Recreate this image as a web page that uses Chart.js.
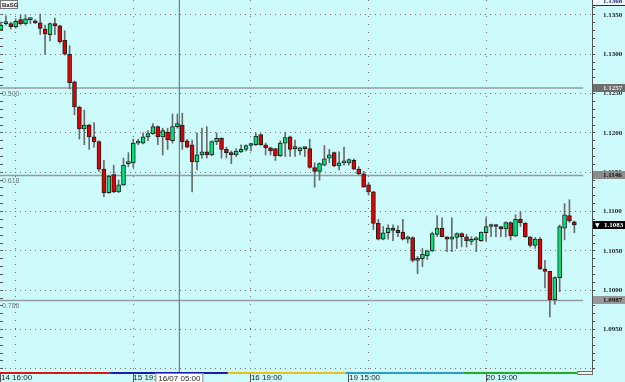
<!DOCTYPE html>
<html>
<head>
<meta charset="utf-8">
<script src="https://cdn.jsdelivr.net/npm/chart.js@4"></script>
<style>
html, body { margin: 0; padding: 0; background: #cdfbfb; }
canvas { display: block; }
</style>
</head>
<body>
<canvas id="chart" width="625" height="382"></canvas>
<script>
var opens = [1.1331, 1.1339, 1.1339, 1.1335, 1.1344, 1.1339, 1.1344, 1.1342, 1.1340, 1.1332,
    1.1325, 1.1339, 1.1336, 1.1318, 1.1300, 1.1265, 1.1233, 1.1205, 1.1210, 1.1195,
    1.1189, 1.1154, 1.1124, 1.1147, 1.1125, 1.1134, 1.1161, 1.1162, 1.1187, 1.1187,
    1.1195, 1.1199, 1.1208, 1.1195, 1.1201, 1.1190, 1.1208, 1.1210, 1.1190, 1.1185,
    1.1163, 1.1172, 1.1176, 1.1172, 1.1189, 1.1193, 1.1179, 1.1175, 1.1172, 1.1176,
    1.1179, 1.1184, 1.1185, 1.1198, 1.1185, 1.1181, 1.1180, 1.1171, 1.1187, 1.1195,
    1.1180, 1.1177, 1.1181, 1.1180, 1.1156, 1.1151, 1.1159, 1.1168, 1.1175, 1.1158,
    1.1162, 1.1162, 1.1165, 1.1154, 1.1148, 1.1134, 1.1125, 1.1085, 1.1065, 1.1073,
    1.1079, 1.1076, 1.1074, 1.1065, 1.1067, 1.1038, 1.1040, 1.1044, 1.1050, 1.1071,
    1.1079, 1.1068, 1.1065, 1.1067, 1.1072, 1.1068, 1.1062, 1.1064, 1.1063, 1.1073,
    1.1081, 1.1083, 1.1081, 1.1078, 1.1086, 1.1069, 1.1090, 1.1085, 1.1068, 1.1057,
    1.1065, 1.1027, 1.1024, 1.0988, 1.1016, 1.1079, 1.1095, 1.1087];

var highs = [1.1341, 1.1349, 1.1341, 1.1345, 1.1350, 1.1350, 1.1346, 1.1344, 1.1351, 1.1337,
    1.1340, 1.1346, 1.1337, 1.1330, 1.1311, 1.1266, 1.1234, 1.1229, 1.1211, 1.1213,
    1.1190, 1.1165, 1.1146, 1.1159, 1.1140, 1.1168, 1.1175, 1.1192, 1.1192, 1.1200,
    1.1203, 1.1212, 1.1209, 1.1206, 1.1206, 1.1224, 1.1224, 1.1225, 1.1192, 1.1191,
    1.1200, 1.1206, 1.1208, 1.1190, 1.1200, 1.1194, 1.1182, 1.1177, 1.1180, 1.1185,
    1.1185, 1.1187, 1.1200, 1.1199, 1.1187, 1.1182, 1.1180, 1.1190, 1.1201, 1.1196,
    1.1191, 1.1182, 1.1181, 1.1192, 1.1162, 1.1162, 1.1184, 1.1179, 1.1176, 1.1176,
    1.1182, 1.1167, 1.1167, 1.1157, 1.1151, 1.1137, 1.1126, 1.1090, 1.1081, 1.1083,
    1.1083, 1.1082, 1.1090, 1.1069, 1.1068, 1.1043, 1.1053, 1.1051, 1.1074, 1.1095,
    1.1092, 1.1068, 1.1092, 1.1073, 1.1073, 1.1071, 1.1068, 1.1068, 1.1074, 1.1092,
    1.1084, 1.1083, 1.1081, 1.1087, 1.1087, 1.1096, 1.1100, 1.1086, 1.1068, 1.1067,
    1.1067, 1.1038, 1.1024, 1.1017, 1.1083, 1.1110, 1.1115, 1.1088];

var lows = [1.1330, 1.1337, 1.1332, 1.1333, 1.1337, 1.1337, 1.1339, 1.1339, 1.1325, 1.1300,
    1.1317, 1.1325, 1.1314, 1.1299, 1.1256, 1.1223, 1.1192, 1.1185, 1.1179, 1.1182,
    1.1151, 1.1119, 1.1123, 1.1124, 1.1124, 1.1133, 1.1157, 1.1156, 1.1185, 1.1186,
    1.1190, 1.1198, 1.1185, 1.1172, 1.1179, 1.1187, 1.1206, 1.1179, 1.1181, 1.1125,
    1.1153, 1.1168, 1.1168, 1.1171, 1.1185, 1.1168, 1.1168, 1.1161, 1.1170, 1.1175,
    1.1177, 1.1177, 1.1184, 1.1184, 1.1172, 1.1172, 1.1165, 1.1170, 1.1170, 1.1170,
    1.1170, 1.1172, 1.1170, 1.1155, 1.1131, 1.1140, 1.1158, 1.1162, 1.1157, 1.1153,
    1.1159, 1.1159, 1.1153, 1.1147, 1.1131, 1.1121, 1.1077, 1.1064, 1.1064, 1.1065,
    1.1063, 1.1068, 1.1064, 1.1060, 1.1036, 1.1021, 1.1030, 1.1039, 1.1049, 1.1068,
    1.1068, 1.1049, 1.1049, 1.1053, 1.1055, 1.1055, 1.1058, 1.1049, 1.1062, 1.1062,
    1.1068, 1.1068, 1.1068, 1.1068, 1.1064, 1.1068, 1.1081, 1.1067, 1.1055, 1.1053,
    1.1026, 1.1003, 1.0966, 1.0982, 1.0998, 1.1064, 1.1086, 1.1073];

var closes = [1.1337, 1.1340, 1.1335, 1.1342, 1.1339, 1.1345, 1.1344, 1.1340, 1.1333, 1.1326,
    1.1339, 1.1336, 1.1316, 1.1300, 1.1264, 1.1233, 1.1205, 1.1210, 1.1195, 1.1189,
    1.1154, 1.1124, 1.1145, 1.1125, 1.1134, 1.1159, 1.1163, 1.1187, 1.1189, 1.1195,
    1.1199, 1.1208, 1.1195, 1.1203, 1.1191, 1.1208, 1.1212, 1.1189, 1.1182, 1.1163,
    1.1172, 1.1176, 1.1172, 1.1189, 1.1193, 1.1179, 1.1175, 1.1172, 1.1177, 1.1179,
    1.1184, 1.1185, 1.1196, 1.1185, 1.1181, 1.1177, 1.1171, 1.1187, 1.1194, 1.1179,
    1.1180, 1.1181, 1.1180, 1.1156, 1.1151, 1.1161, 1.1167, 1.1172, 1.1158, 1.1162,
    1.1162, 1.1166, 1.1154, 1.1148, 1.1131, 1.1125, 1.1085, 1.1065, 1.1073, 1.1079,
    1.1076, 1.1073, 1.1065, 1.1068, 1.1038, 1.1040, 1.1046, 1.1050, 1.1072, 1.1079,
    1.1068, 1.1065, 1.1068, 1.1072, 1.1068, 1.1063, 1.1064, 1.1064, 1.1074, 1.1081,
    1.1083, 1.1081, 1.1078, 1.1086, 1.1069, 1.1090, 1.1086, 1.1068, 1.1057, 1.1065,
    1.1027, 1.1024, 1.0988, 1.1016, 1.1081, 1.1096, 1.1088, 1.1083];

// time axis labels (candle index -> text)
var labelIdx = [0, 27, 51, 71, 99];
var labelText = ['14 16:00', '15 19:00', '16 19:00', '19 15:00', '20 19:00'];
var gridIdx = [3, 27, 51, 75, 99];

// price axis: minor tick every 0.001, label every 0.005 (bottom one hidden)
var priceTicks = [];
for (var t = 1090; t <= 1136; t++) priceTicks.push(t / 1000);
var lowestLabel = 1.0950;

// fibonacci retracement levels
var fibLevels = [1.1257, 1.1146, 1.0987];
var fibNames = ['0.500', '0.618', '0.786'];
var lastPrice = 1.1083;
var topPrice = 1.1368;

// cursor
var crossX = 36.4;
var crossText = '16/07 05:00';

// trading sessions along the time axis
var sessionBounds = [-0.2, 22.3, 46.3, 70.3, 94.3, 117.6];
var sessionColors = ['#d01818', '#1c1ca8', '#e2c21e', '#2a9ccf', '#1fae2a'];

var xMin = -0.2, xMax = 120.6, fibEnd = 118.8;
var yMin = 1.0896, yMax = 1.1369;

var UP = '#00e27a', DOWN = '#e00000';

function isMajor(v) {
    return Math.abs(v * 200 - Math.round(v * 200)) < 1e-6;
}

function noPad(s) {
    s.paddingTop = 0;
    s.paddingBottom = 0;
    s.paddingLeft = 0;
    s.paddingRight = 0;
}

var decor = {
    id: 'decor',
    afterDraw: function (chart) {
        var ctx = chart.ctx, xs = chart.scales.x, ys = chart.scales.y, area = chart.chartArea;
        ctx.save();

        // session strip
        for (var i = 0; i < sessionColors.length; i++) {
            var a = xs.getPixelForValue(sessionBounds[i]);
            var b = xs.getPixelForValue(sessionBounds[i + 1]);
            ctx.fillStyle = sessionColors[i];
            ctx.fillRect(a, area.bottom, b - a, 2);
        }
        var e = xs.getPixelForValue(sessionBounds[sessionBounds.length - 1]);
        ctx.fillStyle = '#f2f2f2';
        ctx.fillRect(e, area.bottom, area.right - e, 2);
        ctx.strokeStyle = '#707070';
        ctx.lineWidth = 1;
        ctx.strokeRect(e + 0.5, area.bottom - 0.5, area.right - e, 3);

        // fib names
        ctx.font = '7px "Liberation Sans"';
        ctx.fillStyle = '#6a7a7a';
        ctx.textAlign = 'left';
        ctx.textBaseline = 'top';
        fibLevels.forEach(function (v, k) {
            ctx.fillText(fibNames[k], 2, ys.getPixelForValue(v) + 2);
        });

        // price tags on the right axis
        function tag(v, bg, fg, text, tx) {
            var y = Math.round(ys.getPixelForValue(v));
            ctx.fillStyle = bg;
            ctx.fillRect(area.right + 1, y - 4, chart.width - area.right, 8);
            ctx.fillStyle = fg;
            ctx.font = 'bold 7px "Liberation Serif"';
            ctx.textBaseline = 'middle';
            ctx.textAlign = 'left';
            ctx.fillText(text, tx, y + 0.5);
        }
        tag(fibLevels[0], '#6e6e6e', '#e8e8e8', fibLevels[0].toFixed(4), 603);
        tag(fibLevels[1], '#8c8c8c', '#111111', fibLevels[1].toFixed(4), 603);
        tag(fibLevels[2], '#999999', '#111111', fibLevels[2].toFixed(4), 603);
        tag(lastPrice, '#000000', '#ffffff', lastPrice.toFixed(4), 604);
        var ly = Math.round(ys.getPixelForValue(lastPrice));
        ctx.font = '6px "DejaVu Sans"';
        ctx.fillText('\u25BC', 595, ly + 0.5);

        var ty = Math.round(ys.getPixelForValue(topPrice));
        ctx.fillStyle = '#f4f8ff';
        ctx.fillRect(area.right + 1, ty - 5, chart.width - area.right, 9);
        ctx.fillStyle = '#1a2a7a';
        ctx.fillRect(area.right + 1, ty + 4, chart.width - area.right, 1);
        ctx.font = 'bold 7px "Liberation Serif"';
        ctx.textBaseline = 'middle';
        ctx.fillText(topPrice.toFixed(4), 603, ty);

        // cursor time label
        var cx = xs.getPixelForValue(crossX);
        ctx.fillStyle = '#ffffff';
        ctx.fillRect(cx - 24, area.bottom + 1, 48, 10);
        ctx.strokeStyle = '#808080';
        ctx.strokeRect(cx - 23.5, area.bottom + 1.5, 47, 10);
        ctx.fillStyle = '#222222';
        ctx.font = '8px "Liberation Sans"';
        ctx.textAlign = 'center';
        ctx.textBaseline = 'middle';
        ctx.fillText(crossText, cx, area.bottom + 7);

        // symbol box top-left
        ctx.fillStyle = '#f4f4f4';
        ctx.fillRect(0, 0, 18, 9);
        ctx.strokeStyle = '#777777';
        ctx.strokeRect(0.5, 0.5, 17, 8);
        ctx.fillStyle = '#222222';
        ctx.font = 'bold 6px "Liberation Sans"';
        ctx.textAlign = 'left';
        ctx.fillText('BaSG', 2, 5);

        ctx.restore();
    }
};

var wickData = highs.map(function (h, i) { return { x: i, y: [lows[i], h] }; });
var bodyData = opens.map(function (o, i) { return { x: i, y: [o, closes[i]] }; });

function hline(v) {
    return [{ x: xMin, y: v }, { x: fibEnd, y: v }];
}

var datasets = [{
    type: 'bar',
    data: bodyData,
    order: 1,
    barThickness: 4,
    minBarLength: 2,
    borderWidth: 1,
    borderSkipped: false,
    borderColor: '#1e1e1e',
    backgroundColor: function (c) {
        var i = c.dataIndex;
        return closes[i] >= opens[i] ? UP : DOWN;
    }
}, {
    type: 'bar',
    data: wickData,
    order: 2,
    barThickness: 1,
    backgroundColor: '#6a6a6a'
}];

fibLevels.forEach(function (v) {
    datasets.push({
        type: 'line',
        data: hline(v),
        order: 5,
        borderColor: '#949c9c',
        borderWidth: 1.5,
        pointRadius: 0
    });
});

datasets.push({
    type: 'line',
    data: [{ x: crossX, y: yMin }, { x: crossX, y: yMax }],
    order: 4,
    borderColor: '#7a7a7a',
    borderWidth: 1.2,
    pointRadius: 0
});

var ctx = document.getElementById('chart').getContext('2d');
var chart = new Chart(ctx, {
    type: 'bar',
    data: { datasets: datasets },
    plugins: [decor],
    options: {
        responsive: false,
        animation: false,
        devicePixelRatio: 1,
        grouped: false,
        layout: { padding: 0 },
        plugins: { legend: { display: false }, tooltip: { enabled: false } },
        scales: {
            xg: {
                type: 'linear',
                position: 'bottom',
                weight: 0,
                min: xMin,
                max: xMax,
                bounds: 'data',
                offset: false,
                afterBuildTicks: function (s) {
                    s.ticks = gridIdx.map(function (v) { return { value: v }; });
                },
                afterFit: function (s) { s.height = 0; noPad(s); },
                ticks: { display: false, autoSkip: false },
                border: { display: false, dash: [1, 7] },
                grid: {
                    offset: false,
                    color: '#6a6a6a',
                    drawTicks: false
                }
            },
            x: {
                type: 'linear',
                position: 'bottom',
                weight: 1,
                min: xMin,
                max: xMax,
                bounds: 'data',
                offset: false,
                afterBuildTicks: function (s) {
                    s.ticks = labelIdx.map(function (v) { return { value: v }; });
                },
                afterFit: function (s) { s.height = 10; noPad(s); },
                ticks: {
                    autoSkip: false,
                    maxRotation: 0,
                    align: 'start',
                    padding: -8.8,
                    color: '#222222',
                    font: { family: 'Liberation Sans', size: 8 },
                    callback: function (v) {
                        var k = labelIdx.indexOf(v);
                        return k >= 0 ? labelText[k] : '';
                    }
                },
                border: { display: false },
                grid: {
                    offset: false,
                    drawOnChartArea: false,
                    tickLength: 10,
                    tickColor: '#555555'
                }
            },
            yl: {
                type: 'linear',
                position: 'left',
                min: yMin,
                max: yMax,
                bounds: 'data',
                afterBuildTicks: function (s) {
                    s.ticks = priceTicks.map(function (v) { return { value: v }; });
                },
                afterFit: function (s) { s.width = 0; noPad(s); },
                ticks: { display: false, autoSkip: false },
                border: { display: false },
                grid: { drawOnChartArea: false, tickLength: -3, tickColor: '#555555' }
            },
            y: {
                type: 'linear',
                position: 'right',
                min: yMin,
                max: yMax,
                bounds: 'data',
                afterBuildTicks: function (s) {
                    s.ticks = priceTicks.map(function (v) { return { value: v }; });
                },
                afterFit: function (s) { s.width = 33; noPad(s); },
                ticks: {
                    autoSkip: false,
                    padding: 8,
                    color: '#222222',
                    font: { family: 'Liberation Serif', size: 7, weight: 'bold' },
                    callback: function (v) {
                        return isMajor(v) && v >= lowestLabel - 1e-9 ? v.toFixed(4) : '';
                    }
                },
                border: { display: true, color: '#555555', width: 1, dash: [1, 4] },
                grid: {
                    color: function (c) {
                        return c.tick && isMajor(c.tick.value) ? '#707070' : 'transparent';
                    },
                    tickColor: '#444444',
                    tickLength: 3
                }
            }
        }
    }
});
</script>
</body>
</html>
